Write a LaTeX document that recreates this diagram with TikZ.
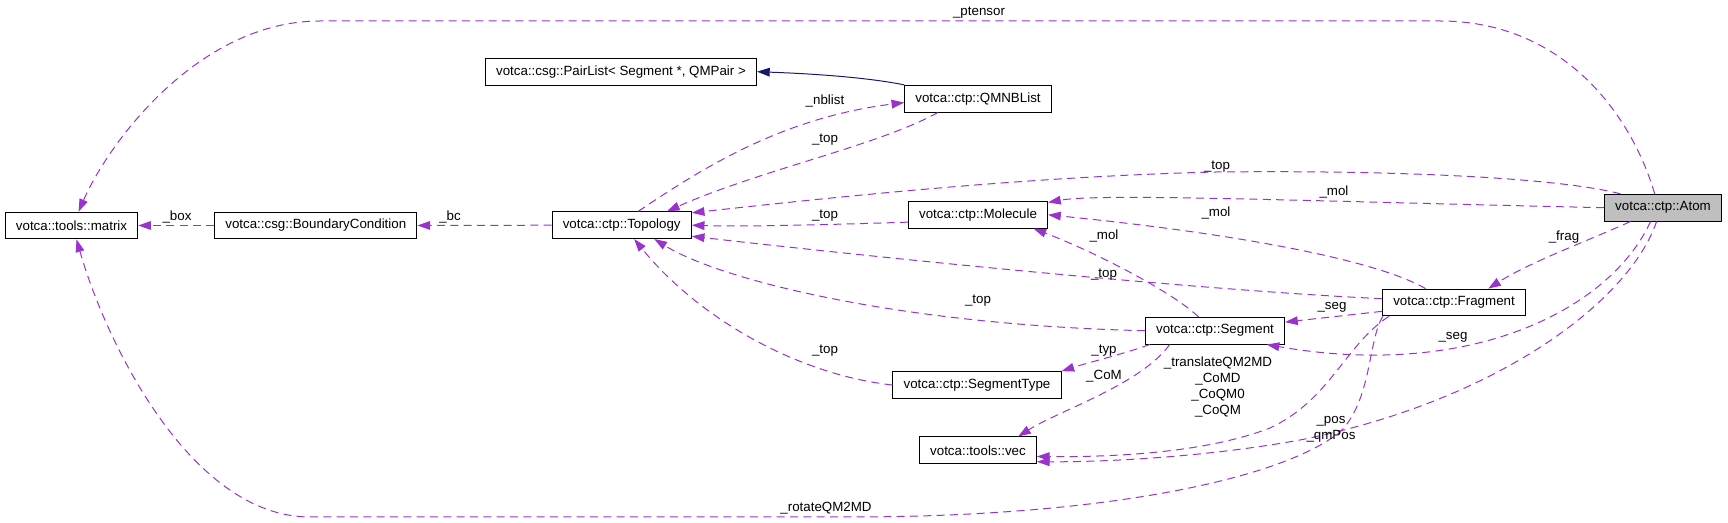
\documentclass[tikz,border=0pt]{standalone}
\usepackage{fontspec}
\setmainfont{Liberation Sans}
\usepackage{tikz}
\usetikzlibrary{arrows.meta}
\definecolor{edgepurple}{HTML}{9A32CD}
\definecolor{basenavy}{HTML}{191970}
\definecolor{atomgray}{HTML}{BFBFBF}

\begin{document}
\begin{tikzpicture}[
  x=0.75pt, y=-0.75pt,
  font=\fontsize{10}{12}\selectfont,
  box/.style={draw, line width=0.75pt, minimum height=20pt, inner xsep=8pt, inner ysep=2pt},
  atombox/.style={box, fill=atomgray},
  lbl/.style={inner sep=0pt, align=center},
  usearrow/.style={-{Triangle[length=9.5pt,width=6.5pt]}, edgepurple, line width=0.75pt,
    dash pattern=on 6pt off 4pt},
  basearrow/.style={-{Triangle[length=9.5pt,width=6.5pt]}, basenavy, line width=0.75pt}
]
\useasboundingbox (0,0) rectangle (1728,523);

\node[box] (matrix) at (71.5,225.5) {votca::tools::matrix};
\node[box] (bc) at (315.8,225.5) {votca::csg::BoundaryCondition};
\node[box] (topo) at (621.7,225.2) {votca::ctp::Topology};
\node[box] (pairlist) at (621,71.7) {votca::csg::PairList< Segment *, QMPair >};
\node[box] (qmnb) at (978,98.7) {votca::ctp::QMNBList};
\node[box] (mol) at (978,214.8) {votca::ctp::Molecule};
\node[atombox] (atom) at (1663,207.7) {votca::ctp::Atom};
\node[box] (frag) at (1454,302.5) {votca::ctp::Fragment};
\node[box] (seg) at (1215,330.7) {votca::ctp::Segment};
\node[box] (segtype) at (977,385) {votca::ctp::SegmentType};
\node[box] (vec) at (978,450.3) {votca::tools::vec};

\draw[basearrow] (qmnb.north west) .. controls (870,78) and (820,74) .. (pairlist.east);
\draw[usearrow] (topo.west) -- (bc.east);
\draw[usearrow] (bc.west) -- (matrix.east);
\draw[usearrow] (atom.121) .. controls (1630,110) and (1560,21) .. (1440,21) -- (320,21)
  .. controls (200,21) and (110,140) .. (matrix.63);
\draw[usearrow] (topo.40) .. controls (700,170) and (780,118) .. (qmnb.183);
\draw[usearrow] (qmnb.199) .. controls (880,145) and (760,170) .. (topo.17);
\draw[usearrow] (atom.162) .. controls (1560,178) and (1400,170) .. (1216,172)
  .. controls (1050,176) and (880,192) .. (topo.10);
\draw[usearrow] (atom.west) .. controls (1300,201) and (1100,193) .. (mol.10);
\draw[usearrow] (mol.186) .. controls (850,224) and (750,227) .. (topo.east);
\draw[usearrow] (frag.177) .. controls (1200,290) and (900,260) .. (topo.351);
\draw[usearrow] (frag.154) .. controls (1380,262) and (1250,235) .. (mol.east);
\draw[usearrow] (seg.140) .. controls (1170,290) and (1090,250) .. (mol.346);
\draw[usearrow] (seg.west) .. controls (900,325) and (720,280) .. (topo.337);
\draw[usearrow] (segtype.west) .. controls (800,375) and (700,320) .. (topo.312);
\draw[usearrow] (atom.203) .. controls (1590,240) and (1530,262) .. (frag.22);
\draw[usearrow] (frag.187) -- (seg.7);
\draw[usearrow] (atom.228) .. controls (1610,310) and (1470,380) .. (seg.345);
\draw[usearrow] (seg.192) .. controls (1120,355) and (1090,362) .. (segtype.north east);
\draw[usearrow] (seg.197) .. controls (1140,385) and (1060,410) .. (vec.19);
\draw[usearrow] (frag.192) .. controls (1345,345) and (1330,400) .. (1270,428)
  .. controls (1200,455) and (1100,457) .. (vec.354);
\draw[usearrow] (atom.245) .. controls (1630,300) and (1500,400) .. (1300,440)
  .. controls (1200,458) and (1100,462) .. (vec.349);
\draw[usearrow] (frag.191) .. controls (1368,340) and (1372,400) .. (1340,432)
  .. controls (1280,480) and (1100,517) .. (850,517) -- (310,517)
  .. controls (190,517) and (105,340) .. (matrix.290);

\node[lbl] (lptensor) at (979,13) {\_ptensor};
\node[lbl] (lbox) at (177,217) {\_box};
\node[lbl] (lbc) at (450,217) {\_bc};
\node[lbl] (lnblist) at (825,101) {\_nblist};
\node[lbl] (ltopqmnb) at (825,140) {\_top};
\node[lbl] (ltopmol) at (825,216) {\_top};
\node[lbl] (ltopatom) at (1217,167) {\_top};
\node[lbl] (lmolatom) at (1334,192) {\_mol};
\node[lbl] (lmolfrag) at (1216,213) {\_mol};
\node[lbl] (lmolseg) at (1104,236) {\_mol};
\node[lbl] (ltopfrag) at (1104,275) {\_top};
\node[lbl] (ltopseg) at (978,301) {\_top};
\node[lbl] (ltoptype) at (825,351) {\_top};
\node[lbl] (lfrag) at (1564,237) {\_frag};
\node[lbl] (lsegfrag) at (1332,307) {\_seg};
\node[lbl] (lsegatom) at (1453,337) {\_seg};
\node[lbl] (ltyp) at (1104,351) {\_typ};
\node[lbl] (lcom) at (1104,376) {\_CoM};
\node[lbl] (lfragvec) at (1218,387) {\_translateQM2MD\\\_CoMD\\\_CoQM0\\\_CoQM};
\node[lbl] (latomvec) at (1331,429) {\_pos\\\_qmPos};
\node[lbl] (lrotate) at (826,508) {\_rotateQM2MD};
\end{tikzpicture}
\end{document}
